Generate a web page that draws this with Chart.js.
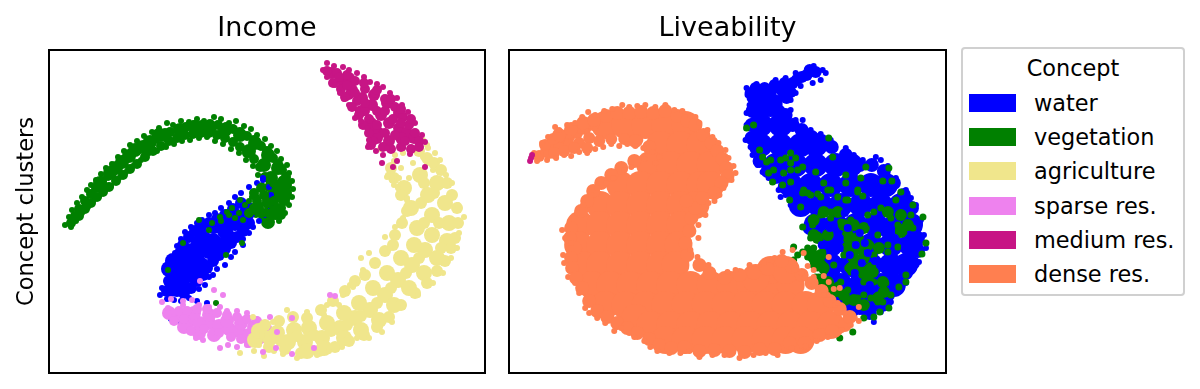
<!DOCTYPE html>
<html lang="en">

<head>
    <meta charset="UTF-8">
    <title>Concept clusters</title>
</head>

<body>
    <canvas id="incomeCanvas" width="497" height="389"></canvas>
    <canvas id="liveCanvas" width="455" height="389"></canvas>
    <div id="legendBox">
        <div id="legendTitle">Concept</div>
    </div>
</body>
<style>
    * {
        margin: 0;
        padding: 0;
    }

    body {
        width: 1200px;
        height: 389px;
        background: white;
        overflow: hidden;
        position: relative;
        font-family: "DejaVu Sans";
        color: black;
    }

    canvas {
        position: absolute;
        top: 0;
    }

    #incomeCanvas {
        left: 0;
    }

    #liveCanvas {
        left: 500px;
    }

    #legendBox {
        position: absolute;
        left: 961px;
        top: 47px;
        width: 220px;
        height: 245px;
        border: 2px solid #d0d0d0;
        border-radius: 4px;
        font-size: 22.4px;
    }

    #legendTitle {
        position: absolute;
        left: 0;
        width: 220px;
        top: 6px;
        text-align: center;
    }

    .row {
        position: absolute;
        left: 6px;
        height: 18px;
        white-space: nowrap;
    }

    .patch {
        position: absolute;
        left: 0;
        top: 0;
        width: 47px;
        height: 18px;
    }

    .label {
        position: absolute;
        left: 65px;
        top: -4px;
        line-height: 26px;
    }
</style>
<script src="https://cdn.jsdelivr.net/npm/chart.js@4"></script>
<script>
    const concepts = ["water", "vegetation", "agriculture", "sparse res.", "medium res.", "dense res."]
    const conceptColors = ["#0000ff", "#008000", "#f0e68c", "#ee82ee", "#c71585", "#ff7f50"]

    // hidden axes: 0-436 across, 0-323 up
    // Core / Mid lists are the thick inside of a cluster, drawn with bigger dots
    const incomeVegetationCore = [[51, 190], [61, 200], [73, 211], [86, 223], [101, 231], [116, 238], [131, 243], [146, 246], [161, 246], [176, 243], [191, 238], [206, 230], [219, 218], [229, 205], [235, 191], [235, 177], [229, 163], [219, 151], [222, 195], [215, 208], [200, 222], [225, 180], [110, 238], [94, 226], [80, 217], [67, 205]]
    const incomeVegetationMid = [[22, 150], [26, 157], [30, 164], [36, 172], [42, 179], [47, 185], [53, 192], [59, 197], [65, 203], [71, 209], [78, 216], [84, 221], [91, 226], [98, 230], [106, 234], [113, 239], [121, 241], [129, 244], [137, 246], [145, 248], [153, 248], [161, 249], [169, 248], [177, 246], [184, 244], [191, 241], [198, 237], [205, 233], [212, 227], [218, 222], [224, 215], [229, 209], [233, 203], [237, 196], [238, 188], [238, 180], [236, 172], [232, 165], [228, 158], [30, 157], [36, 164], [42, 170], [48, 176], [54, 181], [60, 186], [67, 192], [74, 198], [81, 204], [88, 209], [96, 216], [104, 222], [112, 227], [120, 232], [128, 235], [136, 238], [144, 239], [152, 240], [160, 240], [168, 238], [176, 235], [184, 231], [191, 226], [198, 220], [205, 214], [211, 206], [216, 196], [220, 186], [222, 175], [220, 165], [214, 157]]
    const incomeVegetation = [[16, 148], [20, 156], [23, 163], [28, 170], [33, 176], [38, 183], [42, 188], [47, 193], [52, 199], [57, 205], [63, 209], [69, 216], [75, 222], [81, 228], [88, 232], [95, 237], [103, 241], [110, 245], [118, 250], [124, 248], [132, 252], [140, 251], [148, 254], [155, 252], [165, 256], [172, 254], [180, 250], [187, 252], [195, 247], [202, 244], [208, 238], [216, 234], [222, 227], [228, 222], [232, 214], [238, 208], [240, 200], [243, 192], [244, 184], [243, 176], [240, 168], [236, 160], [230, 152], [22, 146], [27, 152], [33, 160], [39, 166], [44, 172], [50, 177], [56, 183], [62, 187], [70, 195], [77, 201], [84, 207], [92, 213], [100, 220], [108, 222], [117, 226], [125, 229], [133, 232], [141, 233], [150, 235], [158, 236], [166, 232], [174, 229], [182, 224], [190, 220], [197, 213], [204, 207], [209, 198], [213, 188], [215, 178], [212, 168], [207, 158]]
    const incomeVegetationStray = [[216, 173], [206, 161], [196, 168], [212, 165], [220, 168], [190, 160], [172, 152], [180, 158], [160, 143], [119, 103], [134, 130], [167, 70], [193, 130], [177, 118], [150, 153], [226, 156], [203, 176], [224, 165], [231, 163], [219, 158], [211, 165], [194, 153], [186, 155], [171, 156], [163, 150], [178, 161], [183, 165], [191, 173], [208, 176], [216, 170], [232, 172], [215, 160], [228, 180], [222, 150], [200, 172]]
    const incomeVegetationFill = [[205, 165], [213, 160], [218, 170], [225, 172], [205, 180], [212, 185], [225, 190], [232, 185], [222, 160], [232, 158], [200, 160], [208, 172], [215, 178]]
    const incomeWaterCore = [[198, 160], [186, 150], [176, 142], [164, 132], [155, 128], [148, 118], [140, 110], [134, 100], [132, 90], [128, 84], [126, 92], [120, 104], [160, 122], [150, 130], [172, 128], [180, 135], [194, 148], [170, 148], [128, 106], [142, 98], [152, 108], [138, 122], [124, 112]]
    const incomeWaterMid = [[118, 82], [120, 92], [124, 100], [128, 112], [131, 120], [134, 128], [140, 136], [146, 142], [152, 146], [160, 150], [168, 154], [176, 158], [184, 164], [192, 170], [135, 80], [142, 85], [148, 92], [154, 98], [158, 105], [164, 112], [170, 118], [176, 124], [182, 130], [188, 136], [194, 142], [200, 150], [122, 82], [135, 88], [145, 102], [132, 112], [145, 125], [155, 138], [165, 145], [178, 150], [188, 158], [200, 165]]
    const incomeWater = [[111, 78], [113, 85], [118, 90], [120, 98], [122, 106], [123, 113], [126, 120], [128, 127], [132, 134], [136, 141], [142, 146], [148, 150], [153, 153], [160, 158], [166, 160], [172, 165], [180, 170], [186, 176], [192, 180], [200, 186], [208, 190], [214, 193], [118, 74], [125, 73], [132, 72], [140, 75], [148, 72], [158, 70], [150, 84], [156, 88], [160, 96], [164, 98], [168, 104], [176, 108], [182, 116], [186, 121], [194, 128], [194, 134], [200, 140], [204, 146], [210, 152], [216, 158], [222, 165], [226, 172], [222, 178], [214, 195], [220, 186], [122, 54], [125, 60], [130, 52]]
    const incomeSparseCore = [[130, 58], [140, 52], [150, 50], [160, 50], [170, 47], [180, 44], [190, 42], [200, 38], [150, 40], [165, 38], [135, 46], [178, 52], [145, 60], [160, 58], [120, 60], [192, 50], [205, 46]]
    const incomeSparseMid = [[125, 52], [130, 62], [138, 62], [148, 64], [158, 64], [168, 60], [178, 58], [188, 56], [198, 54], [208, 52], [155, 44], [142, 42], [170, 40], [182, 36], [192, 34], [200, 30], [212, 34], [135, 54], [218, 45]]
    const incomeSparse = [[125, 61], [134, 68], [171, 66], [188, 62], [198, 60], [221, 56], [147, 35], [154, 33], [166, 35], [171, 25], [179, 28], [188, 26], [198, 28], [206, 48], [214, 50], [191, 51], [160, 66], [150, 68], [178, 62]]
    const incomeAgricultureCore = [[371, 198], [379, 178], [383, 158], [383, 138], [376, 123], [363, 108], [349, 93], [336, 78], [321, 63], [306, 55], [291, 45], [273, 35], [256, 31], [239, 31], [221, 35], [206, 33], [388, 190], [396, 170], [400, 150], [398, 132], [388, 115], [375, 100], [360, 85], [345, 68], [330, 53], [312, 43], [295, 35], [275, 25], [258, 22], [355, 185], [362, 165], [368, 145], [365, 128], [352, 115], [338, 100], [324, 85], [310, 70], [295, 60], [278, 50], [260, 45], [245, 43], [228, 40], [210, 42]]
    const incomeAgricultureMid = [[370, 222], [378, 215], [385, 210], [392, 203], [398, 190], [403, 178], [408, 165], [409, 150], [406, 135], [402, 125], [396, 112], [388, 102], [378, 90], [366, 80], [352, 68], [340, 56], [328, 46], [315, 38], [300, 32], [286, 26], [270, 22], [252, 20], [236, 24], [220, 26], [342, 205], [345, 195], [352, 178], [358, 162], [353, 150], [346, 138], [344, 128], [336, 122], [326, 110], [316, 98], [306, 92], [296, 82], [284, 72], [272, 63], [258, 55], [244, 56], [230, 52], [216, 48], [375, 190], [385, 180], [372, 170], [390, 150], [375, 150], [392, 125], [370, 115], [357, 100], [342, 85], [328, 70], [312, 57], [298, 48], [282, 42], [265, 38], [248, 37], [232, 32]]
    const incomeAgriculture = [[378, 228], [386, 220], [391, 213], [397, 198], [403, 190], [409, 168], [415, 156], [410, 140], [408, 125], [402, 115], [394, 100], [384, 90], [369, 78], [354, 66], [343, 51], [333, 41], [320, 35], [308, 35], [293, 26], [280, 22], [268, 18], [248, 15], [234, 19], [215, 17], [205, 22], [191, 20], [210, 28], [225, 22], [338, 196], [345, 188], [349, 185], [358, 173], [354, 155], [346, 146], [336, 136], [341, 125], [314, 103], [301, 88], [294, 78], [304, 86], [278, 68], [258, 61], [238, 63], [224, 51], [204, 56], [213, 38], [374, 233], [379, 225], [331, 224], [346, 218], [354, 220], [343, 193], [339, 198], [364, 210], [374, 216], [368, 200], [384, 203], [358, 175], [352, 205], [360, 195], [378, 210], [350, 195], [345, 212], [320, 120], [312, 115], [305, 92], [290, 68], [275, 58]]
    const incomeSparseStray = [[113, 71], [119, 65], [122, 74], [151, 92], [165, 83], [174, 78], [134, 72], [143, 73], [214, 21], [265, 25], [286, 77], [243, 55], [243, 19], [227, 25], [228, 41], [281, 78]]
    const incomeMediumCore = [[282, 300], [293, 293], [303, 283], [313, 275], [323, 268], [332, 258], [340, 250], [350, 245], [358, 240], [330, 240], [340, 232], [352, 235], [322, 250], [365, 235], [312, 262], [325, 278], [338, 270], [350, 260], [300, 295], [328, 235]]
    const incomeMediumMid = [[278, 302], [288, 300], [298, 298], [306, 292], [316, 284], [326, 280], [336, 274], [346, 266], [354, 256], [360, 248], [366, 240], [370, 232], [284, 290], [292, 284], [300, 278], [308, 272], [316, 262], [320, 254], [326, 244], [324, 232], [334, 226], [342, 224], [352, 226], [362, 224], [370, 226], [290, 296], [298, 288], [306, 280], [316, 270], [328, 262], [336, 262], [344, 254], [352, 250], [328, 248], [336, 240], [346, 238], [356, 232], [320, 240], [296, 276], [303, 266], [310, 258], [314, 248], [322, 228], [315, 290], [328, 283], [342, 274], [352, 264], [362, 254]]
    const incomeMedium = [[274, 303], [278, 310], [294, 306], [308, 300], [321, 291], [334, 286], [348, 275], [359, 261], [366, 250], [373, 238], [376, 231], [278, 296], [291, 280], [300, 268], [309, 263], [306, 255], [318, 245], [319, 226], [334, 218], [333, 210], [344, 206], [348, 212], [376, 206], [361, 219], [354, 225], [338, 225], [285, 307], [300, 303], [315, 296], [328, 289], [341, 280], [353, 268], [286, 288], [295, 274], [312, 252], [320, 233], [327, 222]]

    const liveDenseCore = [[96, 248], [116, 248], [136, 248], [156, 248], [176, 248], [151, 228], [171, 228], [191, 228], [141, 208], [161, 208], [181, 208], [201, 208], [111, 188], [131, 188], [151, 188], [171, 188], [191, 188], [201, 188], [91, 168], [111, 168], [131, 168], [151, 168], [171, 168], [186, 168], [71, 148], [91, 148], [111, 148], [131, 148], [151, 148], [171, 148], [69, 128], [91, 128], [111, 128], [131, 128], [151, 128], [169, 128], [73, 108], [91, 108], [111, 108], [131, 108], [151, 108], [166, 108], [83, 88], [101, 88], [121, 88], [141, 88], [161, 88], [181, 88], [201, 88], [221, 88], [241, 88], [261, 88], [281, 88], [261, 103], [276, 103], [246, 95], [96, 68], [116, 68], [136, 68], [156, 68], [176, 68], [196, 68], [216, 68], [236, 68], [256, 68], [276, 68], [296, 68], [311, 68], [126, 55], [141, 48], [161, 48], [181, 48], [201, 48], [221, 48], [241, 48], [261, 48], [281, 48], [301, 48], [321, 48], [156, 33], [176, 33], [196, 33], [216, 33], [236, 33], [256, 33], [276, 33], [291, 33]]
    const liveDenseTail = [[30, 217], [37, 222], [44, 226], [52, 231], [60, 236], [68, 240], [76, 244], [84, 248], [70, 230], [70, 245], [60, 228], [60, 240], [50, 225], [50, 236], [40, 220], [80, 235], [80, 250], [90, 232], [102, 234], [115, 234], [128, 233], [36, 228], [44, 234], [55, 222], [65, 225], [78, 225], [45, 220]]
    const liveDenseMid = [[50, 238], [62, 244], [74, 250], [85, 253], [97, 257], [108, 260], [120, 260], [132, 261], [144, 260], [156, 262], [168, 257], [178, 252], [186, 248], [194, 238], [202, 230], [208, 222], [213, 214], [217, 205], [218, 197], [212, 190], [205, 180], [126, 232], [140, 226], [125, 212], [112, 205], [102, 198], [92, 190], [84, 182], [78, 172], [72, 162], [62, 145], [61, 135], [66, 125], [62, 115], [63, 105], [67, 95], [73, 85], [80, 72], [88, 62], [98, 56], [108, 50], [118, 45], [128, 40], [140, 34], [150, 28], [162, 25], [175, 26], [190, 22], [205, 23], [220, 22], [235, 21], [250, 24], [265, 24], [280, 30], [295, 30], [310, 38], [322, 42], [335, 48], [340, 56], [330, 64], [320, 72], [312, 82], [302, 90], [292, 98], [282, 106], [272, 112], [258, 104], [244, 100], [230, 98], [215, 95], [200, 100], [190, 108], [178, 118], [176, 130], [180, 142], [182, 155], [186, 165], [177, 172], [193, 175]]
    const liveDense = [[25, 220], [33, 230], [39, 236], [46, 246], [50, 243], [58, 248], [66, 250], [73, 256], [79, 261], [86, 258], [95, 262], [103, 264], [113, 268], [120, 266], [128, 267], [136, 268], [146, 266], [156, 268], [165, 263], [173, 262], [181, 257], [186, 256], [190, 250], [198, 243], [203, 236], [209, 230], [216, 223], [219, 215], [224, 207], [226, 200], [222, 193], [214, 185], [210, 178], [205, 172], [199, 170], [28, 212], [38, 213], [47, 215], [55, 218], [62, 217], [70, 221], [78, 220], [86, 224], [94, 226], [102, 229], [110, 227], [118, 229], [126, 227], [134, 225], [143, 221], [150, 216], [146, 210], [135, 214], [122, 206], [115, 203], [104, 195], [97, 190], [88, 185], [82, 178], [74, 168], [68, 160], [53, 143], [56, 135], [62, 130], [54, 118], [55, 110], [59, 96], [66, 90], [70, 80], [76, 65], [80, 60], [88, 55], [96, 50], [105, 42], [112, 45], [120, 40], [125, 36], [135, 32], [141, 26], [148, 22], [160, 20], [171, 20], [180, 22], [190, 16], [203, 18], [215, 18], [230, 15], [244, 18], [256, 20], [268, 18], [282, 25], [296, 27], [307, 32], [318, 36], [332, 43], [341, 48], [349, 52], [345, 55], [335, 60], [325, 68], [318, 78], [308, 85], [304, 88], [295, 95], [285, 103], [273, 121], [265, 115], [284, 110], [292, 100], [254, 110], [240, 108], [226, 103], [218, 101], [199, 108], [188, 116], [181, 123], [189, 135], [189, 148], [196, 158], [283, 123], [294, 120], [298, 107], [304, 103], [304, 96], [314, 97], [319, 116], [319, 91], [324, 84], [330, 85], [314, 78], [349, 66], [328, 70]]
    const liveMedium = [[22, 215], [21, 212], [23, 218]]
    const liveVegetationCore = [[304, 115], [311, 108], [314, 91], [321, 85], [343, 125], [344, 108], [353, 100], [338, 136], [391, 143], [363, 101], [301, 118], [308, 135], [334, 148], [344, 148], [354, 145], [338, 138], [348, 135], [338, 126], [348, 125], [358, 128], [344, 115], [354, 115], [341, 105], [351, 105], [361, 105], [358, 96], [303, 118], [311, 118], [306, 108], [314, 105], [309, 93], [318, 91], [324, 81], [334, 78], [344, 73], [354, 68], [368, 75], [374, 81], [373, 91], [391, 141], [398, 148], [318, 138], [328, 161], [314, 161], [304, 153], [304, 138], [378, 161], [391, 158], [369, 125]]
    const liveVegetation = [[237, 245], [244, 248], [250, 223], [253, 216], [257, 211], [259, 200], [264, 203], [263, 191], [273, 188], [281, 220], [281, 203], [276, 215], [286, 215], [293, 206], [306, 201], [319, 235], [323, 216], [356, 206], [379, 205], [351, 195], [373, 192], [382, 192], [336, 198], [336, 190], [318, 183], [308, 179], [301, 178], [293, 180], [281, 191], [280, 173], [336, 173], [348, 181], [353, 177], [391, 181], [403, 168], [386, 173], [291, 166], [293, 146], [301, 135], [308, 138], [306, 153], [321, 155], [338, 148], [343, 135], [338, 125], [348, 111], [341, 101], [361, 105], [364, 118], [378, 128], [388, 126], [391, 145], [398, 148], [364, 161], [351, 145], [368, 138], [413, 156], [416, 130], [412, 119], [403, 145], [396, 98], [396, 91], [389, 86], [376, 90], [381, 78], [373, 71], [379, 65], [370, 61], [364, 56], [354, 55], [343, 41], [330, 35], [336, 71], [346, 71], [354, 78], [368, 78], [321, 78], [308, 88], [306, 96], [288, 81], [301, 120], [308, 118], [288, 118], [284, 126], [276, 108], [261, 111], [308, 105], [331, 91], [338, 83], [307, 62], [304, 125], [298, 116], [308, 111], [313, 121], [293, 121], [284, 113], [298, 125], [314, 101], [309, 96], [304, 90], [309, 85], [316, 81], [321, 90], [328, 88], [336, 81], [341, 73], [348, 75], [361, 75], [368, 71], [374, 83], [338, 135], [344, 128], [334, 118], [341, 115], [349, 101], [354, 91], [364, 91], [331, 151], [341, 153], [321, 161], [311, 158], [303, 148], [306, 136], [361, 128], [368, 125], [378, 121], [388, 148], [394, 141], [381, 155], [358, 158], [371, 165], [401, 158], [351, 121], [338, 105], [324, 108], [298, 180], [311, 176], [321, 183], [328, 176], [338, 173], [348, 183], [314, 190], [294, 183], [271, 213], [261, 213], [274, 200], [288, 203], [281, 210]]
    const liveWaterOver = [[350, 160], [362, 150], [375, 140], [385, 135], [330, 125], [326, 100], [370, 108], [385, 100], [360, 88], [345, 95], [320, 145], [395, 125], [355, 130], [365, 112], [335, 160], [346, 128], [340, 118], [352, 110], [345, 100], [350, 140], [338, 145], [358, 120], [330, 135], [312, 128]]
    const liveWaterCore = [[251, 268], [261, 268], [251, 248], [271, 248], [251, 228], [271, 228], [291, 228], [306, 228], [266, 208], [286, 208], [306, 208], [326, 208], [341, 208], [281, 188], [301, 188], [321, 188], [341, 188], [361, 188], [376, 188], [291, 168], [311, 168], [331, 168], [351, 168], [371, 168], [391, 168], [306, 148], [326, 148], [346, 148], [366, 148], [386, 148], [401, 148], [321, 128], [341, 128], [361, 128], [381, 128], [401, 128], [321, 108], [341, 108], [361, 108], [381, 108], [396, 108], [331, 88], [351, 88], [371, 88], [384, 88], [341, 73], [361, 73], [371, 73]]
    const liveWaterHead = [[306, 301], [297, 298], [287, 293], [279, 287], [269, 285], [259, 281], [248, 281], [241, 280], [249, 275], [261, 278], [273, 281], [281, 281], [300, 303], [292, 296], [283, 290], [275, 290], [265, 288], [255, 285], [246, 285], [243, 275], [255, 272], [267, 272], [277, 275], [270, 262]]
    const liveWaterMid = [[243, 262], [242, 248], [242, 235], [247, 225], [250, 212], [258, 202], [266, 196], [275, 186], [285, 178], [276, 258], [283, 248], [292, 243], [302, 236], [312, 232], [322, 226], [336, 218], [350, 208], [362, 208], [374, 202], [384, 190], [394, 178], [402, 165], [406, 150], [408, 135], [408, 122], [403, 110], [396, 100], [388, 90], [378, 78], [370, 68], [360, 60], [350, 65], [342, 62], [330, 78], [322, 95], [310, 110], [300, 145], [305, 165]]
    const liveWater = [[304, 307], [313, 303], [316, 300], [311, 293], [303, 290], [291, 287], [286, 280], [281, 273], [237, 285], [238, 278], [247, 289], [266, 293], [276, 295], [286, 300], [240, 268], [237, 260], [237, 248], [236, 233], [241, 226], [243, 218], [248, 208], [253, 201], [259, 195], [263, 191], [269, 183], [271, 176], [281, 168], [276, 178], [281, 263], [286, 253], [293, 253], [301, 243], [311, 239], [321, 233], [336, 225], [344, 218], [353, 213], [366, 216], [371, 213], [378, 207], [386, 195], [396, 183], [401, 175], [406, 168], [411, 153], [414, 138], [416, 125], [409, 111], [401, 103], [396, 90], [386, 83], [381, 71], [371, 61], [364, 51], [353, 61], [301, 135], [306, 158], [299, 145]]

    const layers = {
        income: [
            [incomeMedium, 4, 3], [incomeMediumMid, 4, 5], [incomeMediumCore, 4, 6],
            [incomeSparseStray, 3, 3],
            [incomeAgriculture, 2, 3], [incomeAgricultureMid, 2, 6], [incomeAgricultureCore, 2, 8],
            [incomeSparse, 3, 3], [incomeSparseMid, 3, 5], [incomeSparseCore, 3, 7],
            [incomeVegetationStray, 1, 3], [incomeVegetationFill, 1, 5],
            [incomeWater, 0, 3], [incomeWaterMid, 0, 6], [incomeWaterCore, 0, 8],
            [incomeVegetation, 1, 3], [incomeVegetationMid, 1, 5], [incomeVegetationCore, 1, 7]
        ],
        live: [
            [liveMedium, 4, 3],
            [liveDense, 5, 3], [liveDenseMid, 5, 7], [liveDenseTail, 5, 6], [liveDenseCore, 5, 14],
            [liveWaterOver, 0, 4],
            [liveVegetation, 1, 3.5], [liveVegetationCore, 1, 6],
            [liveWater, 0, 3], [liveWaterHead, 0, 6], [liveWaterMid, 0, 7], [liveWaterCore, 0, 12]
        ]
    }

    // plot frame, the axes themselves stay hidden
    const framePlugin = {
        id: "frame",
        afterDraw(chart) {
            const area = chart.chartArea
            const ctx = chart.ctx
            ctx.save()
            ctx.strokeStyle = "black"
            ctx.lineWidth = 2
            ctx.strokeRect(area.left, area.top, area.right - area.left, area.bottom - area.top)
            ctx.restore()
        }
    }

    function makeChart(canvasId, titleText, list, padding, yAxis) {
        return new Chart(document.getElementById(canvasId), {
            type: "scatter",
            data: {
                datasets: list.map(function (item) {
                    return {
                        data: item[0].map(function (p) { return { x: p[0], y: p[1] } }),
                        backgroundColor: conceptColors[item[1]],
                        borderWidth: 0,
                        pointRadius: item[2],
                        label: concepts[item[1]]
                    }
                })
            },
            options: {
                responsive: false,
                animation: false,
                layout: { autoPadding: false, padding: padding },
                plugins: {
                    legend: { display: false },
                    tooltip: { enabled: false },
                    title: {
                        display: true,
                        text: titleText,
                        fullSize: false,
                        color: "black",
                        font: { family: "DejaVu Sans", size: 27, weight: "normal", lineHeight: 1.2 },
                        padding: { top: 13, bottom: 4.6 }
                    }
                },
                scales: {
                    x: { type: "linear", min: 0, max: 436, display: false },
                    y: yAxis
                }
            },
            plugins: [framePlugin]
        })
    }

    makeChart("incomeCanvas", "Income", layers.income, { right: 12, bottom: 16 }, {
        min: 0,
        max: 323,
        grid: { display: false },
        border: { display: false },
        ticks: { display: false },
        title: {
            display: true,
            text: "Concept clusters",
            color: "black",
            font: { family: "DejaVu Sans", size: 22.6 },
            padding: { top: 14, bottom: 0 }
        },
        afterFit(scale) {
            scale.width = 49
        }
    })

    makeChart("liveCanvas", "Liveability", layers.live, { left: 9, right: 9, bottom: 16 }, {
        min: 0,
        max: 323,
        display: false
    })

    const legendBox = document.getElementById("legendBox")
    concepts.forEach(function (name, i) {
        const row = document.createElement("div")
        row.className = "row"
        row.style.top = (45 + i * 34.2) + "px"
        row.innerHTML = '<span class="patch" style="background:' + conceptColors[i] + '"></span><span class="label">' + name + "</span>"
        legendBox.appendChild(row)
    })
</script>

</html>
